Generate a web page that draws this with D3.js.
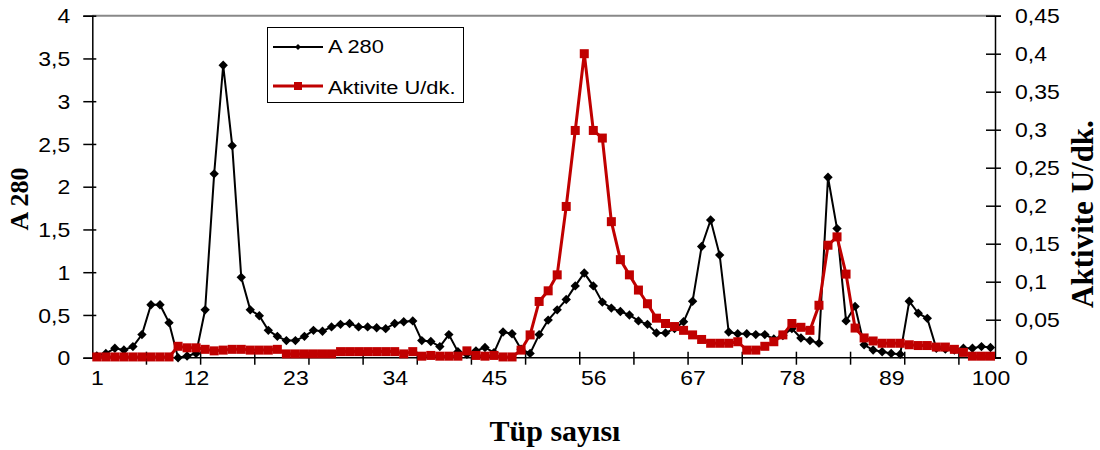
<!DOCTYPE html>
<html><head><meta charset="utf-8">
<script src="https://cdn.jsdelivr.net/npm/d3@7"></script>
<style>
body{margin:0;background:#fff;}
svg{display:block;}
</style></head>
<body>
<svg id="chart" width="1100" height="450"></svg>
<script>
// ---- data ----
const tubes = d3.range(1, 101);
const a280 = [
 0.02,0.05,0.11,0.09,0.13,0.27,0.62,0.62,0.41,0.00,
 0.02,0.05,0.56,2.15,3.42,2.48,0.94,0.56,0.49,0.32,
 0.25,0.20,0.20,0.25,0.32,0.31,0.36,0.39,0.40,0.36,
 0.36,0.35,0.34,0.40,0.42,0.43,0.20,0.19,0.13,0.27,
 0.07,0.04,0.08,0.12,0.06,0.30,0.28,0.10,0.05,0.27,
 0.44,0.56,0.68,0.84,0.99,0.84,0.65,0.58,0.54,0.50,
 0.43,0.39,0.29,0.29,0.34,0.42,0.66,1.30,1.61,1.20,
 0.30,0.28,0.28,0.27,0.27,0.22,0.26,0.34,0.23,0.20,
 0.17,2.11,1.51,0.43,0.60,0.15,0.09,0.07,0.05,0.04,
 0.66,0.52,0.46,0.11,0.10,0.09,0.11,0.11,0.13,0.12
];
const aktivite = [
 0.001,0.001,0.001,0.001,0.001,0.001,0.001,0.001,0.001,0.015,
 0.013,0.013,0.011,0.009,0.010,0.011,0.011,0.010,0.010,0.010,
 0.011,0.005,0.005,0.005,0.005,0.005,0.005,0.008,0.008,0.008,
 0.008,0.008,0.008,0.008,0.005,0.008,0.002,0.003,0.002,0.002,
 0.002,0.009,0.003,0.002,0.003,0.001,0.001,0.010,0.030,0.074,
 0.088,0.109,0.199,0.299,0.400,0.299,0.289,0.179,0.129,0.109,
 0.089,0.071,0.052,0.045,0.041,0.036,0.030,0.024,0.019,0.019,
 0.019,0.021,0.010,0.010,0.015,0.021,0.030,0.045,0.040,0.036,
 0.069,0.148,0.159,0.110,0.039,0.026,0.022,0.019,0.019,0.019,
 0.017,0.016,0.016,0.014,0.014,0.011,0.007,0.002,0.002,0.002
];
const xLabels = [1,12,23,34,45,56,67,78,89,100];
const yLeftTicks = [0,0.5,1,1.5,2,2.5,3,3.5,4];
const yRightTicks = [0,0.05,0.1,0.15,0.2,0.25,0.3,0.35,0.4,0.45];
const seriesNames = ["A 280","Aktivite U/dk."];

// ---- layout ----
const L = 92.3, R = 995, T = 15.7, B = 357.7;
const RED = "#c00000";
const SANS = "'Liberation Sans', Arial, sans-serif";
const SERIF = "'Liberation Serif', 'Times New Roman', serif";
const SX = 1.15;
const fmt = d => String(d).replace('.', ',');

const svg = d3.select("#chart");
const xb = d3.scaleBand().domain(tubes).range([L, R]).padding(0);
const bw = xb.bandwidth();
const xc = d => xb(d) + bw / 2;
const xp = d3.scalePoint().domain(tubes).range([L + bw/2, R - bw/2]);
const yL = d3.scaleLinear().domain([0, 4]).range([B, T]);
const yR = d3.scaleLinear().domain([0, 0.45]).range([B, T]);

// top border
svg.append("line").attr("x1", L).attr("x2", R).attr("y1", T).attr("y2", T)
  .attr("stroke", "#888").attr("stroke-width", 2);

// left axis
const gL = svg.append("g").attr("transform", `translate(${L},0)`)
  .call(d3.axisLeft(yL).tickValues(yLeftTicks).tickFormat(fmt).tickSizeOuter(0).tickSize(9));
gL.select(".domain").attr("stroke", "#000").attr("stroke-width", 1.5);
gL.selectAll(".tick line").attr("x1", 4).attr("x2", -9).attr("stroke-width", 1.5);
gL.selectAll(".tick text").attr("x", 0).attr("dy", "0.36em")
  .attr("transform", `translate(-22,0) scale(${SX},1)`)
  .style("font-family", SANS).style("font-size", "20px").attr("fill", "#000");

// right axis
const gR = svg.append("g").attr("transform", `translate(${R},0)`)
  .call(d3.axisRight(yR).tickValues(yRightTicks).tickFormat(fmt).tickSizeOuter(0).tickSize(6));
gR.select(".domain").attr("stroke", "#000").attr("stroke-width", 1.5);
gR.selectAll(".tick line").attr("x1", -9).attr("x2", 6).attr("stroke-width", 1.5);
gR.selectAll(".tick text").attr("x", 0).attr("dy", "0.36em")
  .attr("transform", `translate(20,0) scale(${SX},1)`)
  .style("font-family", SANS).style("font-size", "20px").attr("fill", "#000");

// bottom axis: labels
const gB = svg.append("g").attr("transform", `translate(0,${B})`)
  .call(d3.axisBottom(xp).tickValues(xLabels).tickSize(0).tickPadding(0));
gB.select(".domain").remove();
gB.selectAll(".tick text").attr("y", 0).attr("dy", 0)
  .attr("transform", `translate(0,27) scale(${SX},1)`)
  .style("font-family", SANS).style("font-size", "20px").attr("fill", "#000");
// bottom axis line and tick marks (every 6 tubes, at band edges)
svg.append("line").attr("x1", L).attr("x2", R + 6).attr("y1", B).attr("y2", B)
  .attr("stroke", "#000").attr("stroke-width", 1.5);
const tickTubes = tubes.filter((d, i) => i % 6 === 0 && i > 0);
svg.append("g").selectAll("line").data(tickTubes).join("line")
  .attr("x1", d => xb(d)).attr("x2", d => xb(d))
  .attr("y1", B - 6).attr("y2", B + 7).attr("stroke", "#000").attr("stroke-width", 1.5);

// axis titles
svg.append("text").attr("x", 555).attr("y", 441).attr("text-anchor", "middle")
  .style("font-family", SERIF).style("font-weight", "bold").style("font-size", "30px")
  .text("Tüp sayısı");
svg.append("text").attr("transform", "translate(28,199) rotate(-90)").attr("text-anchor", "middle")
  .style("font-family", SERIF).style("font-weight", "bold").style("font-size", "26px")
  .text("A 280");
svg.append("text").attr("transform", "translate(1093,214) rotate(-90)").attr("text-anchor", "middle")
  .style("font-family", SERIF).style("font-weight", "bold").style("font-size", "31px")
  .text("Aktivite U/dk.");

// series
const lineL = d3.line().x((d, i) => xc(tubes[i])).y(d => yL(d));
const lineR = d3.line().x((d, i) => xc(tubes[i])).y(d => yR(d));

svg.append("path").datum(a280).attr("d", lineL).attr("fill", "none")
  .attr("stroke", "#000").attr("stroke-width", 2);
svg.append("g").selectAll("path").data(a280).join("path")
  .attr("d", d3.symbol().type(d3.symbolSquare).size(44))
  .attr("transform", (d, i) => `translate(${xc(tubes[i])},${yL(d)}) rotate(45)`)
  .attr("fill", "#000");

svg.append("path").datum(aktivite).attr("d", lineR).attr("fill", "none")
  .attr("stroke", RED).attr("stroke-width", 3);
svg.append("g").selectAll("rect").data(aktivite).join("rect")
  .attr("x", (d, i) => xc(tubes[i]) - 4.5).attr("y", d => yR(d) - 4.5)
  .attr("width", 9).attr("height", 9).attr("fill", RED);

// legend
const lg = svg.append("g");
lg.append("rect").attr("x", 267.5).attr("y", 27.5).attr("width", 196).attr("height", 75)
  .attr("fill", "#fff").attr("stroke", "#000").attr("stroke-width", 1);
lg.append("line").attr("x1", 273).attr("x2", 323).attr("y1", 47).attr("y2", 47)
  .attr("stroke", "#000").attr("stroke-width", 2);
lg.append("path").attr("d", d3.symbol().type(d3.symbolSquare).size(18))
  .attr("transform", "translate(298,47) rotate(45)").attr("fill", "#000");
lg.append("line").attr("x1", 273).attr("x2", 323).attr("y1", 86).attr("y2", 86)
  .attr("stroke", RED).attr("stroke-width", 3);
lg.append("rect").attr("x", 294).attr("y", 82).attr("width", 8).attr("height", 8).attr("fill", RED);
lg.selectAll("text.lt").data(seriesNames).join("text").attr("class", "lt")
  .attr("transform", (d, i) => `translate(328,${i ? 94 : 53}) scale(${SX},1)`)
  .style("font-family", SANS).style("font-size", "19px").text(d => d);
</script>
</body></html>
